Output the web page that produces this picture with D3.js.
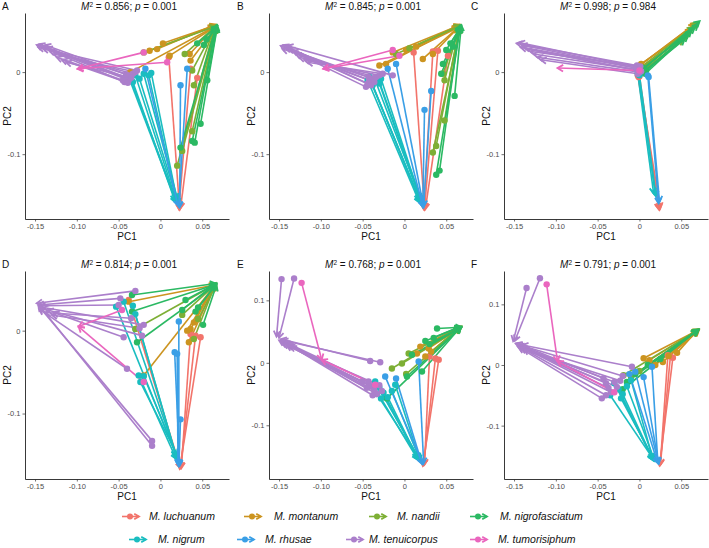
<!DOCTYPE html>
<html><head><meta charset="utf-8">
<script src="https://cdn.jsdelivr.net/npm/d3@7"></script>
<style>body{margin:0;background:#fff;} svg{display:block;font-family:"Liberation Sans",Arial,sans-serif;}</style>
</head><body><svg id="chart" width="709" height="548"></svg>
<script>
const species = ["M. luchuanum","M. montanum","M. nandii","M. nigrofasciatum","M. nigrum","M. rhusae","M. tenuicorpus","M. tumorisiphum"];
const speciesColors = ["#F2746B","#CC9420","#7DAF35","#2BB963","#1ABDC0","#3A9FE6","#AB7FCB","#EA66BE"];
const panelLabels = ["A","B","C","D","E","F"];
const m2Values = ["0.856","0.845","0.998","0.814","0.768","0.791"];
const pValues = ["0.001","0.001","0.984","0.001","0.001","0.001"];
const xTicks = [-0.15,-0.10,-0.05,0,0.05];
const xTickLabels = ["-0.15","-0.10","-0.05","0","0.05"];
const yTicksTop = [-0.1,0];
const yTickLabelsTop = ["-0.1","0"];
const yTicksEF = [-0.1,0,0.1];
const yTickLabelsEF = ["-0.1","0","0.1"];
const xDomain = [-0.162,0.082];
const yDomains = [[-0.179,0.072],[-0.179,0.072],[-0.179,0.072],[-0.179,0.072],[-0.186,0.147],[-0.188,0.155]];

// arrows: [species index, start x, start y, end x, end y]
const arrowsA = [
[6,-0.043,-0.012,-0.148,0.033],[6,-0.040,-0.008,-0.145,0.034],[6,-0.038,-0.010,-0.142,0.031],[6,-0.036,-0.004,-0.140,0.029],
[6,-0.042,-0.006,-0.136,0.030],[6,-0.033,-0.002,-0.133,0.026],[6,-0.030,0.000,-0.128,0.022],[6,-0.045,-0.010,-0.124,0.018],
[6,-0.039,-0.013,-0.118,0.015],[6,-0.035,-0.007,-0.113,0.012],[6,-0.028,0.002,-0.146,0.030],[6,-0.041,-0.003,-0.138,0.033],
[7,0.008,0.012,-0.099,0.004],[7,-0.020,0.024,-0.099,0.004],
[1,-0.013,0.026,0.064,0.056],[1,0.003,0.035,0.066,0.057],[1,0.011,0.020,0.065,0.055],[1,0.035,0.022,0.067,0.057],
[1,0.036,0.014,0.066,0.054],[1,-0.036,0.000,0.064,0.055],[1,-0.004,0.028,0.066,0.058],
[2,-0.020,0.024,0.066,0.056],[2,0.029,0.022,0.067,0.057],[2,0.038,0.002,0.066,0.055],[2,0.040,-0.016,0.065,0.056],
[2,0.038,-0.072,0.066,0.054],[2,0.026,-0.096,0.067,0.056],[2,0.020,-0.114,0.065,0.055],
[3,0.044,0.035,0.068,0.056],[3,0.052,0.033,0.067,0.055],[3,0.056,-0.010,0.068,0.057],[3,0.038,-0.084,0.067,0.055],
[3,0.041,-0.086,0.066,0.056],[3,0.048,-0.063,0.068,0.055],[3,0.024,-0.092,0.067,0.057],[3,0.055,0.040,0.068,0.056],
[0,0.010,0.018,0.023,-0.168],[0,0.044,-0.007,0.024,-0.166],[0,0.036,0.004,0.022,-0.167],
[5,0.024,-0.016,0.023,-0.165],[5,0.032,0.004,0.022,-0.164],[5,-0.018,0.004,0.021,-0.163],
[4,-0.038,-0.006,0.018,-0.156],[4,-0.035,-0.010,0.019,-0.158],[4,-0.030,-0.004,0.020,-0.160],[4,-0.025,-0.008,0.021,-0.159],
[4,-0.020,-0.002,0.022,-0.161],[4,-0.014,-0.004,0.019,-0.155],[4,-0.011,-0.001,0.020,-0.157],[4,-0.033,-0.012,0.018,-0.159]
];
const arrowsB = [
[6,-0.046,-0.018,-0.148,0.032],[6,-0.044,-0.014,-0.145,0.033],[6,-0.042,-0.010,-0.142,0.030],[6,-0.040,-0.016,-0.138,0.029],
[6,-0.038,-0.008,-0.134,0.026],[6,-0.036,-0.012,-0.130,0.022],[6,-0.034,-0.006,-0.126,0.018],[6,-0.030,-0.004,-0.120,0.015],
[6,-0.026,-0.002,-0.116,0.012],[6,-0.014,-0.004,-0.140,0.032],[6,-0.043,-0.006,-0.146,0.028],
[7,-0.014,0.027,-0.097,0.004],[7,-0.006,0.020,-0.097,0.004],
[1,-0.022,0.010,0.065,0.056],[1,-0.014,0.024,0.066,0.057],[1,0.002,0.027,0.064,0.055],[1,0.014,0.031,0.066,0.058],
[1,0.022,0.016,0.065,0.055],[1,0.034,0.022,0.067,0.057],[1,-0.030,0.008,0.064,0.054],
[2,-0.010,0.022,0.066,0.056],[2,0.006,0.029,0.067,0.057],[2,0.046,-0.002,0.066,0.055],[2,0.048,-0.010,0.065,0.056],
[2,0.048,-0.059,0.066,0.054],[2,0.034,-0.098,0.067,0.056],[2,0.038,-0.090,0.066,0.057],
[3,0.050,0.027,0.068,0.056],[3,0.058,0.031,0.067,0.055],[3,0.060,-0.029,0.068,0.057],[3,0.038,-0.125,0.067,0.055],
[3,0.042,-0.120,0.066,0.056],[3,0.046,0.010,0.068,0.055],[3,0.044,-0.002,0.067,0.057],[3,0.055,0.035,0.068,0.056],
[0,0.011,0.024,0.024,-0.168],[0,0.034,0.025,0.023,-0.167],[0,0.040,0.026,0.024,-0.166],[0,0.052,0.020,0.025,-0.167],
[5,-0.010,0.010,0.023,-0.165],[5,-0.020,0.004,0.022,-0.164],[5,0.032,-0.023,0.023,-0.163],[5,0.024,-0.046,0.022,-0.165],
[4,-0.042,-0.006,0.018,-0.156],[4,-0.040,-0.012,0.019,-0.158],[4,-0.038,-0.016,0.020,-0.160],[4,-0.035,-0.010,0.021,-0.159],
[4,-0.032,-0.006,0.022,-0.161],[4,-0.030,-0.014,0.019,-0.155],[4,-0.028,-0.008,0.020,-0.157],[4,-0.044,-0.010,0.018,-0.159]
];
const arrowsC = [
[6,-0.003,0.008,-0.147,0.035],[6,-0.002,0.006,-0.144,0.036],[6,0.000,0.004,-0.141,0.033],[6,-0.004,0.005,-0.138,0.030],
[6,-0.001,0.002,-0.134,0.028],[6,0.001,0.007,-0.130,0.025],[6,-0.003,0.003,-0.127,0.022],[6,0.000,0.000,-0.122,0.018],
[6,-0.002,-0.002,-0.118,0.015],[6,0.002,0.001,-0.142,0.030],
[7,0.000,0.002,-0.098,0.005],
[1,-0.002,0.006,0.068,0.060],[1,0.000,0.008,0.066,0.058],[1,0.002,0.010,0.062,0.052],[1,0.001,0.004,0.058,0.046],[1,0.003,0.007,0.055,0.043],
[2,0.001,0.005,0.070,0.060],[2,0.003,0.002,0.064,0.055],[2,0.004,0.006,0.060,0.048],[2,0.002,0.000,0.052,0.040],
[3,0.004,0.003,0.072,0.062],[3,0.006,0.000,0.070,0.058],[3,0.005,0.005,0.066,0.054],[3,0.007,-0.002,0.062,0.050],
[3,0.003,-0.001,0.058,0.044],[3,0.008,0.002,0.054,0.040],
[0,-0.002,-0.004,0.024,-0.168],[0,-0.001,-0.006,0.025,-0.166],[0,0.000,-0.005,0.023,-0.167],
[5,0.010,-0.004,0.023,-0.160],[5,0.011,-0.006,0.024,-0.158],
[4,-0.002,-0.002,0.017,-0.148],[4,-0.001,-0.003,0.019,-0.150],[4,0.000,-0.004,0.020,-0.152]
];
const arrowsD = [
[6,-0.030,0.048,-0.148,0.033],[6,-0.048,0.039,-0.146,0.031],[6,-0.050,0.031,-0.144,0.030],[6,-0.020,0.007,-0.140,0.028],
[6,-0.022,-0.006,-0.135,0.025],[6,-0.044,-0.008,-0.128,0.022],[6,-0.040,-0.046,-0.145,0.026],[6,-0.010,-0.133,-0.146,0.030],
[6,-0.010,-0.139,-0.143,0.028],[6,-0.025,0.003,-0.130,0.019],[6,-0.035,0.015,-0.138,0.022],
[7,-0.046,0.025,-0.098,0.005],[7,-0.020,-0.062,-0.098,0.005],
[1,-0.038,0.035,0.065,0.055],[1,-0.020,-0.054,0.066,0.056],[1,0.032,0.000,0.064,0.054],[1,0.034,-0.014,0.065,0.055],
[1,0.036,0.002,0.066,0.057],[1,0.040,0.010,0.065,0.056],
[2,-0.030,0.002,0.066,0.056],[2,0.026,0.019,0.065,0.055],[2,0.040,-0.010,0.066,0.057],[2,0.045,0.014,0.067,0.056],
[3,-0.034,0.043,0.066,0.057],[3,-0.034,0.023,0.067,0.056],[3,-0.028,-0.014,0.066,0.055],[3,0.030,0.037,0.067,0.057],
[3,0.042,0.023,0.066,0.056],[3,0.051,0.007,0.067,0.055],[3,0.026,0.025,0.066,0.057],[3,0.045,0.028,0.067,0.056],
[4,-0.044,0.035,0.019,-0.151],[4,-0.053,0.029,0.020,-0.153],[4,-0.026,-0.054,0.019,-0.155],[4,-0.024,-0.062,0.020,-0.150],
[4,-0.020,-0.055,0.021,-0.154],[4,-0.030,0.020,0.019,-0.152],[4,-0.033,0.030,0.020,-0.156],
[5,0.022,0.011,0.022,-0.162],[5,0.017,-0.026,0.023,-0.163],[5,0.024,-0.107,0.022,-0.164],[5,0.020,-0.028,0.021,-0.162],
[0,-0.038,0.037,0.024,-0.166],[0,0.048,-0.008,0.023,-0.167],[0,0.042,-0.006,0.024,-0.165],[0,0.036,-0.004,0.025,-0.166]
];
const arrowsE = [
[6,-0.147,0.134,-0.153,0.042],[6,-0.132,0.135,-0.150,0.040],[6,-0.041,0.003,-0.148,0.038],[6,-0.029,0.001,-0.146,0.036],
[6,-0.043,-0.030,-0.144,0.034],[6,-0.040,-0.038,-0.142,0.032],[6,-0.036,-0.044,-0.140,0.030],[6,-0.033,-0.050,-0.138,0.029],
[6,-0.030,-0.036,-0.145,0.031],[6,-0.027,-0.045,-0.141,0.028],[6,-0.045,-0.040,-0.150,0.036],[6,-0.038,-0.052,-0.136,0.027],
[6,-0.050,-0.030,-0.147,0.033],
[7,-0.123,0.128,-0.099,0.005],[7,-0.035,-0.035,-0.099,0.005],
[0,0.037,0.007,0.023,-0.164],[0,0.041,0.005,0.022,-0.165],[0,0.030,0.010,0.024,-0.163],
[5,-0.023,-0.022,0.022,-0.162],[5,0.017,0.002,0.023,-0.161],[5,-0.010,-0.025,0.021,-0.162],
[4,-0.035,-0.030,0.017,-0.153],[4,-0.030,-0.040,0.018,-0.155],[4,-0.025,-0.048,0.016,-0.152],[4,-0.020,-0.055,0.017,-0.156],
[4,-0.015,-0.045,0.018,-0.154],[4,-0.011,-0.035,0.019,-0.157],[4,-0.028,-0.057,0.016,-0.155],[4,-0.033,-0.050,0.017,-0.153],
[1,0.019,0.026,0.068,0.058],[1,0.029,0.023,0.067,0.057],[1,0.025,0.010,0.066,0.056],[1,0.032,0.018,0.068,0.057],[1,0.015,0.015,0.067,0.058],
[2,0.005,0.015,0.068,0.057],[2,-0.003,-0.001,0.067,0.056],[2,-0.015,-0.009,0.068,0.058],[2,0.002,-0.018,0.066,0.057],
[3,0.039,0.055,0.068,0.057],[3,0.025,0.035,0.067,0.058],[3,0.009,0.013,0.068,0.056],[3,0.021,-0.014,0.067,0.057],
[3,0.003,-0.022,0.068,0.058],[3,-0.021,-0.057,0.067,0.056],[3,0.030,0.030,0.068,0.057],[3,0.035,0.040,0.067,0.058]
];
const arrowsF = [
[6,-0.135,0.127,-0.151,0.039],[6,-0.119,0.143,-0.149,0.040],[6,-0.043,-0.022,-0.147,0.036],[6,-0.040,-0.030,-0.145,0.034],
[6,-0.037,-0.038,-0.143,0.032],[6,-0.034,-0.045,-0.141,0.030],[6,-0.030,-0.028,-0.139,0.028],[6,-0.027,-0.036,-0.146,0.031],
[6,-0.023,-0.026,-0.142,0.027],[6,-0.009,-0.003,-0.140,0.033],[6,-0.045,-0.055,-0.144,0.029],[6,-0.040,-0.050,-0.138,0.026],
[6,-0.020,-0.018,-0.148,0.035],
[7,-0.111,0.133,-0.098,0.006],[7,-0.030,-0.045,-0.098,0.006],
[0,0.037,0.014,0.025,-0.165],[0,0.040,0.012,0.024,-0.166],[0,0.034,0.016,0.025,-0.164],
[5,-0.005,-0.011,0.023,-0.162],[5,0.015,-0.003,0.022,-0.161],[5,0.005,-0.020,0.023,-0.163],[5,-0.012,-0.015,0.022,-0.162],
[4,-0.030,-0.030,0.017,-0.157],[4,-0.025,-0.040,0.016,-0.156],[4,-0.020,-0.048,0.017,-0.158],[4,-0.015,-0.035,0.018,-0.157],
[4,-0.010,-0.025,0.016,-0.155],[4,-0.035,-0.050,0.017,-0.156],[4,-0.022,-0.055,0.018,-0.158],
[1,0.005,0.011,0.071,0.058],[1,0.019,0.000,0.070,0.057],[1,0.035,0.015,0.071,0.059],[1,0.045,0.020,0.069,0.057],
[1,0.012,0.008,0.070,0.058],[1,0.028,0.005,0.071,0.057],
[2,-0.019,-0.017,0.070,0.058],[2,-0.010,-0.020,0.069,0.057],[2,0.000,-0.010,0.070,0.059],
[3,-0.015,-0.028,0.071,0.058],[3,-0.005,-0.015,0.070,0.057],[3,0.010,0.000,0.071,0.059],[3,-0.020,-0.040,0.070,0.058],[3,0.025,0.010,0.069,0.057]
];
const allArrows = [arrowsA,arrowsB,arrowsC,arrowsD,arrowsE,arrowsF];

const svg = d3.select("#chart");
const colLeft = [25,269,504];
const colStart = [2,237,471];
const rowTop = [13,271];
const rowH = [206,208];
const plotW = 204;

function arrowHead(x0,y0,x1,y1,len){
  const a = Math.atan2(y0-y1,x0-x1);
  const s = Math.PI/6;
  return `M${x1+len*Math.cos(a+s)},${y1+len*Math.sin(a+s)}L${x1},${y1}L${x1+len*Math.cos(a-s)},${y1+len*Math.sin(a-s)}`;
}

allArrows.forEach((arr,pi)=>{
  const c = pi%3, r = Math.floor(pi/3);
  const L = colLeft[c], T = rowTop[r], H = rowH[r];
  const x = d3.scaleLinear().domain(xDomain).range([0,plotW]);
  const y = d3.scaleLinear().domain(yDomains[pi]).range([H,0]);
  const g = svg.append("g").attr("transform",`translate(${L},${T})`);
  const sorted = arr.slice().sort((a,b)=>a[0]-b[0]);
  const ag = g.append("g");
  sorted.forEach(d=>{
    const col = speciesColors[d[0]];
    const X0=x(d[1]),Y0=y(d[2]),X1=x(d[3]),Y1=y(d[4]);
    ag.append("line").attr("x1",X0).attr("y1",Y0).attr("x2",X1).attr("y2",Y1)
      .attr("stroke",col).attr("stroke-width",1.6);
    ag.append("path").attr("d",arrowHead(X0,Y0,X1,Y1,6.5)).attr("fill","none")
      .attr("stroke",col).attr("stroke-width",1.8).attr("stroke-linejoin","miter");
  });
  g.append("g").selectAll("circle").data(sorted).join("circle")
    .attr("cx",d=>x(d[1])).attr("cy",d=>y(d[2])).attr("r",3.2)
    .attr("fill",d=>speciesColors[d[0]]);
  const xa = g.append("g").attr("transform",`translate(0,${H})`)
    .call(d3.axisBottom(x).tickValues(xTicks).tickFormat((d,i)=>xTickLabels[i]).tickSize(2.5).tickSizeOuter(0).tickPadding(2));
  const yt = pi>=4 ? yTicksEF : yTicksTop, ytl = pi>=4 ? yTickLabelsEF : yTickLabelsTop;
  const ya = g.append("g")
    .call(d3.axisLeft(y).tickValues(yt).tickFormat((d,i)=>ytl[i]).tickSize(2.5).tickSizeOuter(0).tickPadding(2));
  [xa,ya].forEach(a=>{
    a.select(".domain").attr("stroke","#222").attr("stroke-width",0.9);
    a.selectAll(".tick line").attr("stroke","#333").attr("stroke-width",0.7);
    a.selectAll(".tick text").attr("fill","#4d4d4d").style("font-size","7.5px").style("font-family","'Liberation Sans',Arial,sans-serif");
  });
  g.append("text").attr("x",plotW/2).attr("y",H+21).attr("text-anchor","middle")
    .style("font-size","10px").attr("fill","#111").text("PC1");
  g.append("text").attr("transform",`translate(-14,${H/2}) rotate(-90)`).attr("text-anchor","middle")
    .style("font-size","10px").attr("fill","#111").text("PC2");
  const t = g.append("text").attr("x",plotW/2+2).attr("y",-3).attr("text-anchor","middle")
    .style("font-size","10px").attr("fill","#111");
  t.append("tspan").style("font-style","italic").text("M");
  t.append("tspan").attr("dy",-3.5).style("font-size","6.5px").text("2");
  t.append("tspan").attr("dy",3.5).text(` = ${m2Values[pi]}; `);
  t.append("tspan").style("font-style","italic").text("p");
  t.append("tspan").text(` = ${pValues[pi]}`);
  svg.append("text").attr("x",colStart[c]).attr("y",T-3).style("font-size","10px").attr("fill","#111").text(panelLabels[pi]);
});

const legendX = [[122,149],[244,274],[369,397],[470,500],[129,158],[237,265],[346,369],[470,498]];
const legendY = [520,543];
species.forEach((s,i)=>{
  const gx = legendX[i][0], tx = legendX[i][1], yy = legendY[Math.floor(i/4)];
  const col = speciesColors[i];
  const cy = yy-3.5;
  svg.append("line").attr("x1",gx).attr("y1",cy).attr("x2",gx+17).attr("y2",cy).attr("stroke",col).attr("stroke-width",1.6);
  svg.append("path").attr("d",arrowHead(gx,cy,gx+17,cy,5.5)).attr("fill","none").attr("stroke",col).attr("stroke-width",1.8);
  svg.append("circle").attr("cx",gx+8).attr("cy",cy).attr("r",3).attr("fill",col);
  svg.append("text").attr("x",tx).attr("y",yy).style("font-size","10.5px").style("font-style","italic").attr("fill","#111").text(s);
});
</script></body></html>
